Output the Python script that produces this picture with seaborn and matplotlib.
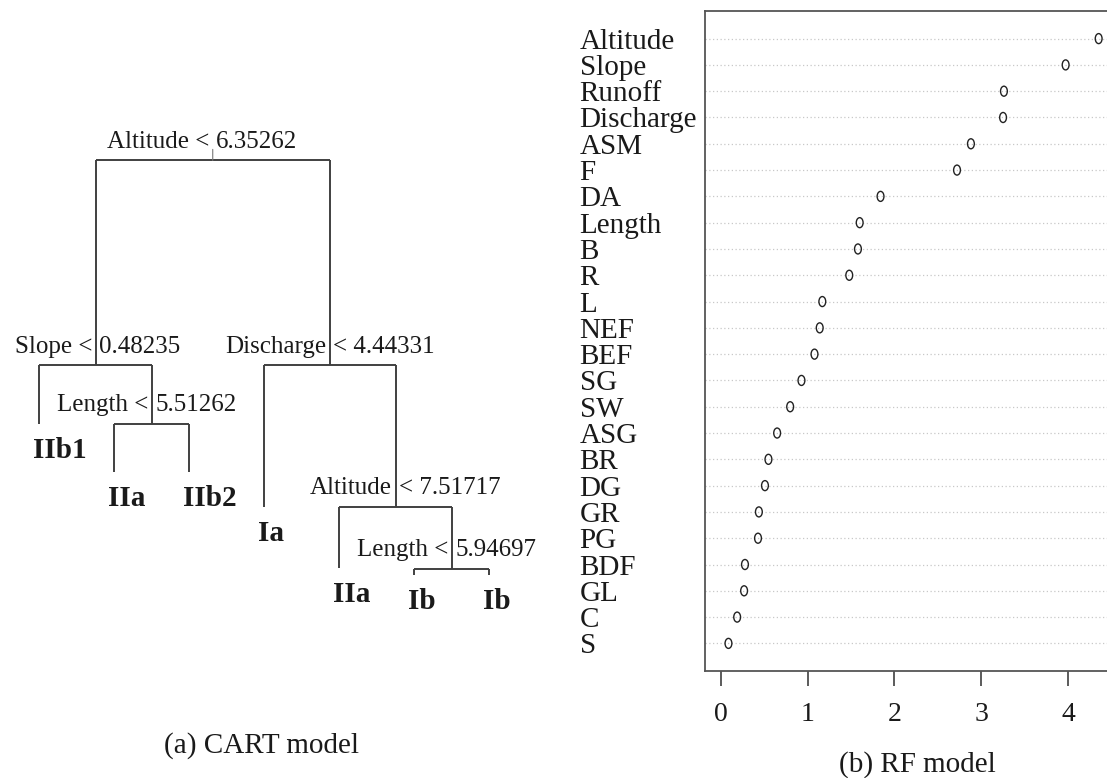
import numpy as np
import pandas as pd
import matplotlib
matplotlib.use("Agg")
import matplotlib.pyplot as plt
from matplotlib.path import Path
import seaborn as sns

# ---------------- data ----------------
# RF variable importance (dot chart), top to bottom
features = ["Altitude", "Slope", "Runoff", "Discharge", "ASM", "F", "DA", "Length",
            "B", "R", "L", "NEF", "BEF", "SG", "SW", "ASG", "BR", "DG", "GR", "PG",
            "BDF", "GL", "C", "S"]
importance = [4.35, 3.97, 3.26, 3.25, 2.88, 2.72, 1.84, 1.60, 1.58, 1.48, 1.17, 1.14,
              1.08, 0.93, 0.80, 0.65, 0.55, 0.51, 0.44, 0.43, 0.28, 0.27, 0.19, 0.09]
x_ticks = [0, 1, 2, 3, 4]

# CART tree (rpart node numbering, pre-order)
node_id = [1, 2, 4, 5, 10, 11, 3, 6, 7, 14, 15, 30, 31]
node_height = [1.0, 0.506, 0.366, 0.366, 0.250, 0.250, 0.506, 0.166, 0.166,
               0.017, 0.016, 0.0, 0.0]
split_ids = [1, 2, 5, 3, 7, 15]
split_left = ["Altitude <", "Slope <", "Length <", "Discharge", "Altitude", "Length <"]
split_right = ["6.35262", "0.48235", "5.51262", "< 4.44331", "< 7.51717", "5.94697"]
leaf_ids = [4, 10, 11, 6, 14, 30, 31]
leaf_labels = ["IIb1", "IIa", "IIb2", "Ia", "IIa", "Ib", "Ib"]

caption_a = "(a) CART model"
caption_b = "(b) RF model"

# ---------------- style ----------------
sns.set_theme(style="white")
plt.rcParams["font.family"] = ["Liberation Serif", "DejaVu Serif"]
TXT = "#1a1a1a"
LINE = "#404040"

W, H = 1107, 778
fig = plt.figure(figsize=(W / 100, H / 100), dpi=100)
PX = 0.72  # points per pixel

# ---------------- tree panel ----------------
axt = fig.add_axes([0, 0, 560 / W, 1])
axt.set_axis_off()
axt.set_xlim(1 - 39.3 / 75, 1 + (560 - 39.3) / 75)
axt.set_ylim(1 - (778 - 160.4) / 415, 1 + 160.4 / 415)

height = dict(zip(node_id, node_height))
xpos = {}
for i, lid in enumerate(leaf_ids):
    xpos[lid] = i + 1.0


def get_x(n):
    if n not in xpos:
        xpos[n] = (get_x(2 * n) + get_x(2 * n + 1)) / 2
    return xpos[n]


for n in node_id:
    get_x(n)

for n in split_ids:
    l, r = 2 * n, 2 * n + 1
    y = height[n]
    axt.plot([xpos[l], xpos[r]], [y, y], color=LINE, lw=1.4, solid_capstyle="butt")
    axt.plot([xpos[l], xpos[l]], [y, height[l]], color=LINE, lw=1.4, solid_capstyle="butt")
    axt.plot([xpos[r], xpos[r]], [y, height[r]], color=LINE, lw=1.4, solid_capstyle="butt")

# root stub
axt.annotate("", xy=(xpos[1], height[1]), xytext=(0, 11 * PX), textcoords="offset points",
             arrowprops=dict(arrowstyle="-", color="#777777", lw=0.8, shrinkA=0, shrinkB=0))

for n, lt, rt in zip(split_ids, split_left, split_right):
    axt.annotate(lt, xy=(xpos[n], height[n]), xytext=(-3.5 * PX, 18.5 * PX),
                 textcoords="offset points", ha="right", va="center",
                 fontsize=18, color=TXT)
    axt.annotate(rt, xy=(xpos[n], height[n]), xytext=(3.5 * PX, 18.5 * PX),
                 textcoords="offset points", ha="left", va="center",
                 fontsize=18, color=TXT)

for lid, lab in zip(leaf_ids, leaf_labels):
    axt.annotate(lab, xy=(xpos[lid], height[lid]), xytext=(-6.5 * PX, -26.5 * PX),
                 textcoords="offset points", ha="left", va="center",
                 fontsize=21, fontweight="bold", color=TXT)

fig.text(262 / W, 1 - 745.7 / H, caption_a, ha="center", va="center", fontsize=21, color=TXT)

# ---------------- dot chart panel ----------------
left_px, top_px, bottom_px = 705, 11, 671
xmin, xmax = -0.18, 4.62
px_per_unit = 86.9
ax = fig.add_axes([left_px / W, 1 - bottom_px / H,
                   (xmax - xmin) * px_per_unit / W, (bottom_px - top_px) / H])

df = pd.DataFrame({"feature": features, "importance": importance})
circ = Path.unit_circle()
ell = Path(circ.vertices * np.array([0.68, 1.0]), circ.codes)
sns.scatterplot(data=df, x="importance", y="feature", ax=ax, marker=ell, s=52,
                facecolor="none", edgecolor="#222222", linewidth=1.0, zorder=3)

n = len(features)
ax.set_ylim(n - 1 + 1.05, -1.05)
ax.set_xlim(xmin, xmax)
ax.set_xlabel("")
ax.set_ylabel("")
ax.set_yticks(range(n))
ax.set_yticklabels(features)
ax.yaxis.grid(True, linestyle=(0, (1, 2)), color="#c8c8c8", linewidth=0.9)
ax.xaxis.grid(False)
ax.tick_params(axis="y", length=0, pad=125.4 * PX, labelsize=21, labelcolor=TXT)
for lbl in ax.get_yticklabels():
    lbl.set_horizontalalignment("left")
ax.set_xticks(x_ticks)
ax.set_xticklabels([str(t) for t in x_ticks])
ax.tick_params(axis="x", bottom=True, direction="out", length=10.5, width=1.2,
               color=LINE, pad=12, labelsize=20, labelcolor=TXT)
for sp in ["top", "left", "bottom", "right"]:
    ax.spines[sp].set_visible(True)
    ax.spines[sp].set_color("#555555")
    ax.spines[sp].set_linewidth(1.3)

fig.text(917 / W, 1 - 765 / H, caption_b, ha="center", va="center", fontsize=21, color=TXT)

fig.savefig("out.png", dpi=100)
